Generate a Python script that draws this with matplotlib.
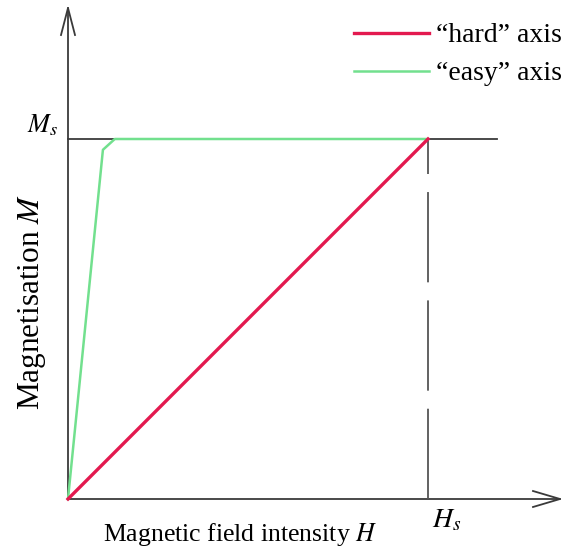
import matplotlib
matplotlib.use("Agg")
from matplotlib import pyplot as plt

plt.rcParams['font.family'] = ['Liberation Serif', 'DejaVu Serif']
plt.rcParams['mathtext.fontset'] = 'stix'

# H in units of Hs, M in units of Ms
hard_H = [0, 1.0]
hard_M = [0, 1.0]
easy_H = [0, 0.097, 0.13, 1.0]
easy_M = [0, 0.97, 1.0, 1.0]
Hs, Ms = 1.0, 1.0

W, H = 566, 549
fig = plt.figure(figsize=(W / 100, H / 100), dpi=100)
ax = fig.add_axes([0, 0, 1, 1])
# origin at pixel (68, 499), 360 px per unit
ox, oy, s = 68, 499, 360.0
ax.set_xlim(-ox / s, (W - ox) / s)
ax.set_ylim(-(H - oy) / s, oy / s)
ax.axis('off')

axc = '#3a3a3a'
# axes with open arrow heads
xend, yend = (560 - ox) / s, (oy - 8) / s
ax.plot([0, xend], [0, 0], color=axc, lw=1.3)
ax.plot([0, 0], [0, yend], color=axc, lw=1.3)
ax.plot([xend - 27 / s, xend, xend - 27 / s], [8 / s, 0, -8 / s], color=axc, lw=1.3)
ax.plot([-7 / s, 0, 7 / s], [yend - 27 / s, yend, yend - 27 / s], color=axc, lw=1.3)

# saturation line and Hs marker
ax.plot([0, (497 - ox) / s], [Ms, Ms], color=axc, lw=1.3)
ax.plot([Hs, Hs], [0, Ms], color='#555555', lw=1.3, dashes=(50, 10))

ax.plot(easy_H, easy_M, color='#72e08e', lw=1.8, label='\u201ceasy\u201d axis')
ax.plot(hard_H, hard_M, color='#e3194f', lw=2.4, label='\u201chard\u201d axis')

h, l = ax.get_legend_handles_labels()
ax.legend(h[::-1], l[::-1], loc='upper right', bbox_to_anchor=(562 / W, 1 - 23 / H),
          bbox_transform=fig.transFigure, frameon=False, fontsize=20,
          handlelength=2.7, handletextpad=0.25, labelspacing=0.45,
          borderpad=0, borderaxespad=0)

ax.text(-10 / s, Ms + 14 / s, '$M_s$', fontsize=19, ha='right', va='center')
ax.text(Hs + 4 / s, -22 / s, '$H_s$', fontsize=20, ha='left', va='center')
ax.text((240 - ox) / s, -36 / s, 'Magnetic field intensity $H$', fontsize=18.5,
        ha='center', va='center')
ax.text(-36 / s, (oy - 302) / s, 'Magnetisation $M$', fontsize=22.5, rotation=90,
        ha='center', va='center')

fig.savefig('out.png', dpi=100)
